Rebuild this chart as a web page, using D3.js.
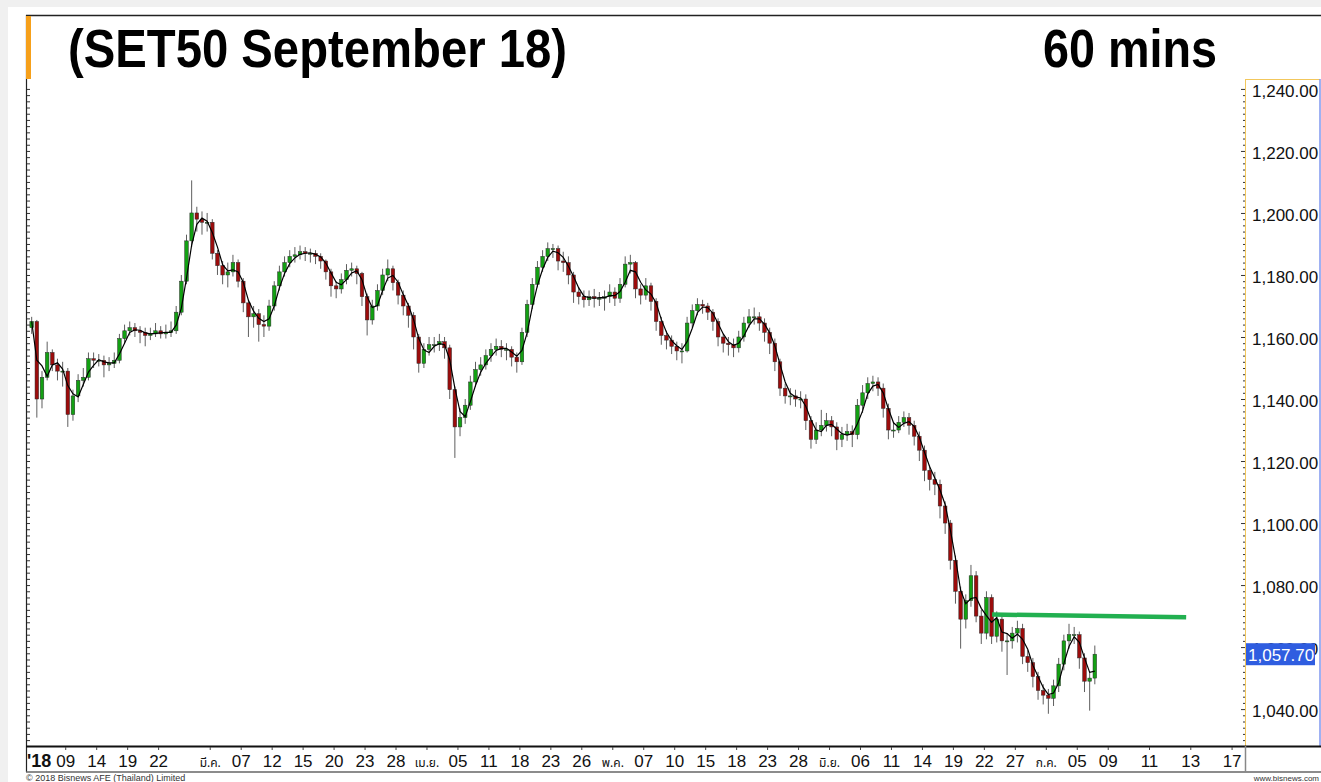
<!DOCTYPE html>
<html>
<head>
<meta charset="utf-8">
<script src="https://cdn.jsdelivr.net/npm/d3@7"></script>
<style>
html, body { margin: 0; padding: 0; background: #f0f0f0; }
svg { display: block; }
</style>
</head>
<body>
<svg id="chart" width="1321" height="782"></svg>
<script>
var closes = [
  1165, 1140, 1147, 1155, 1151, 1149, 1149, 1135, 1141, 1146,
  1147, 1153, 1152.5, 1152.5, 1151, 1151.5, 1152.5, 1159.5, 1162, 1163,
  1162, 1161.5, 1160.5, 1161, 1162, 1161, 1161.5, 1162, 1168, 1178,
  1191, 1200, 1198, 1197, 1197, 1187, 1183, 1180, 1181, 1184,
  1178, 1171, 1166.5, 1167.5, 1164, 1163.5, 1170, 1176.5, 1181, 1184,
  1186, 1186.5, 1187.5, 1187, 1187, 1186, 1184.5, 1181, 1176.5, 1175.5,
  1178.5, 1181.5, 1182, 1180.5, 1173, 1165.5, 1170, 1175, 1180, 1182,
  1177.5, 1173.5, 1170, 1167, 1160, 1151.5, 1156, 1157.5, 1157.5, 1158.5,
  1156.5, 1143, 1131, 1134, 1138, 1145.5, 1149.5, 1151, 1154, 1156,
  1157, 1156, 1156, 1153.5, 1152, 1161.5, 1170.5, 1177, 1182.5, 1186,
  1188.5, 1188.5, 1184.5, 1184, 1180, 1174.5, 1173, 1172, 1173, 1172.5,
  1172.5, 1173, 1174.5, 1172.5, 1177, 1183.5, 1184, 1175.5, 1173.5, 1176.5,
  1171.5, 1165, 1160.5, 1159, 1157, 1155.5, 1155.5, 1164.5, 1168.5, 1170.5,
  1170, 1168, 1165, 1160, 1158, 1157.5, 1156.5, 1160, 1164.5, 1166.5,
  1166.5, 1164.5, 1161.5, 1158, 1152, 1143.5, 1141, 1141, 1140, 1140,
  1133, 1127, 1130, 1131.5, 1133, 1131, 1127, 1128.5, 1129.5, 1128.5,
  1138, 1142, 1145, 1145.5, 1143.5, 1137, 1130, 1130, 1132.5, 1134,
  1131.5, 1128, 1123.5, 1117, 1114, 1112.5, 1105.5, 1100, 1088, 1078,
  1069, 1075, 1083, 1070, 1064.5, 1076, 1063.5, 1069, 1062, 1062,
  1064.5, 1066, 1057, 1055, 1050.5, 1046, 1044.5, 1043.5, 1047.5, 1054.5,
  1062, 1064, 1064, 1056.5, 1049, 1050, 1057.7
];
var highs = [
  1166.5, 1165.5, 1149, 1158.5, 1156, 1153, 1152, 1150, 1143, 1148,
  1150, 1155, 1155, 1154.5, 1154, 1153.5, 1155, 1161, 1164, 1165,
  1164.5, 1163.5, 1163, 1163, 1164.5, 1163.5, 1164, 1165, 1170, 1180,
  1193, 1210.5, 1202, 1200.5, 1200, 1198, 1188, 1184.5, 1184, 1186.5,
  1185, 1179, 1172, 1170, 1169, 1167, 1172, 1178, 1183, 1186,
  1188, 1189, 1189.5, 1189, 1188.5, 1188, 1187, 1185, 1182, 1178,
  1180.5, 1183.5, 1184, 1183, 1181, 1174, 1172, 1177, 1182, 1185,
  1183, 1178.5, 1175, 1171, 1168, 1161, 1158, 1160, 1160, 1161,
  1160, 1157.5, 1144, 1137, 1140, 1147.5, 1152, 1153.5, 1156, 1158,
  1159.5, 1159, 1158, 1157, 1155, 1163, 1172, 1179, 1184.5, 1188,
  1190.5, 1190, 1189.5, 1187.5, 1186, 1181, 1176, 1175, 1175, 1175.5,
  1174.5, 1175, 1177, 1176, 1179, 1186, 1186.5, 1184.5, 1177, 1179,
  1177.5, 1172.5, 1166.5, 1162, 1160.5, 1158.5, 1158, 1166.5, 1170.5, 1172.5,
  1172, 1171, 1169, 1166, 1161, 1160, 1159.5, 1162, 1166.5, 1169,
  1169.5, 1168, 1166, 1163, 1159.5, 1153, 1145, 1143.5, 1143, 1142.5,
  1141.5, 1134.5, 1132.5, 1136.5, 1135.5, 1134.5, 1132.5, 1131, 1132, 1131.5,
  1140, 1144.5, 1147, 1147.5, 1147, 1145, 1138.5, 1132.5, 1134.5, 1136,
  1135.5, 1133, 1129.5, 1125, 1118.5, 1116.5, 1114, 1107, 1101, 1089.5,
  1079.5, 1077, 1086.5, 1084.5, 1072, 1078, 1077, 1071.5, 1070.5, 1064.5,
  1066.5, 1068.5, 1067.5, 1059, 1056.5, 1052, 1048, 1046.5, 1049.5, 1056.5,
  1064, 1067.5, 1066.5, 1065, 1058, 1052, 1060.5
];
var lows = [
  1161, 1134, 1137, 1146, 1149, 1146, 1144, 1131, 1133, 1139,
  1144, 1146, 1150, 1150.5, 1147, 1149, 1150, 1151.5, 1158, 1160.5,
  1160, 1158, 1157, 1159, 1160, 1159.5, 1159.5, 1160, 1161, 1167,
  1177, 1189, 1194, 1193, 1194, 1185, 1180, 1177, 1176, 1179.5,
  1176, 1168, 1160, 1163, 1158.5, 1160, 1162, 1168.5, 1175, 1179.5,
  1182.5, 1184, 1185, 1184.5, 1184, 1183.5, 1182, 1178.5, 1173, 1172.5,
  1174, 1177, 1179.5, 1177, 1170, 1160.5, 1164, 1168.5, 1173.5, 1178,
  1175, 1170.5, 1167, 1163, 1156, 1148.5, 1150, 1154, 1155, 1155.5,
  1153, 1140, 1121, 1128, 1132, 1136.5, 1144, 1147.5, 1149.5, 1152,
  1154, 1153.5, 1152.5, 1150.5, 1148.5, 1151, 1160, 1169, 1176, 1181,
  1184.5, 1185.5, 1181.5, 1181, 1177, 1171, 1170.5, 1169.5, 1170, 1169.5,
  1170, 1168.5, 1171, 1170, 1171, 1176, 1180.5, 1172.5, 1170.5, 1172,
  1168.5, 1162, 1157.5, 1156, 1154.5, 1152.5, 1151.5, 1155, 1163, 1167,
  1167.5, 1165.5, 1162, 1157, 1155, 1154, 1153.5, 1155, 1158.5, 1163,
  1164, 1162, 1158.5, 1154.5, 1149, 1141, 1138.5, 1138, 1137.5, 1137,
  1130, 1124, 1125.5, 1128, 1129.5, 1128, 1123.5, 1124.5, 1126.5, 1124.5,
  1127, 1135.5, 1140, 1142.5, 1141, 1134, 1127, 1127.5, 1129, 1131,
  1128.5, 1125, 1120, 1113.5, 1110.5, 1109, 1101.5, 1096.5, 1085, 1074,
  1059.5, 1066, 1073, 1068, 1061, 1062.5, 1061, 1061.5, 1058.5, 1051,
  1059.5, 1061.5, 1054.5, 1052, 1047, 1043, 1041.5, 1038.5, 1041, 1045.5,
  1052.5, 1059.5, 1061, 1053, 1045.5, 1039.5, 1048
];
var firstOpen = 1163;
var firstSlot = 0.75;   // Feb 5 afternoon, counted in trading days
var slotStep = 0.5;     // two candles per trading day

// x axis: trading-day index (0 = Feb 5 2018); days after Jul 6 are future slots
var tickDays   = [4, 7, 10, 13, 18, 21, 24, 27, 30, 33, 36, 39, 42, 45, 48, 51, 54, 57, 60, 63, 66, 69, 72, 75, 78, 81, 84, 87, 90, 93, 96, 99, 102, 105, 109, 113, 117];
var tickLabels = ["09", "14", "19", "22", "มี.ค.", "07", "12", "15", "20", "23", "28", "เม.ย.", "05", "11", "18", "23", "26", "พ.ค.", "07", "10", "15", "18", "23", "28", "มิ.ย.", "06", "11", "14", "19", "22", "27", "ก.ค.", "05", "09", "11", "13", "17"];
var yearLabel = "'18";

var priceTicks = [1040, 1060, 1080, 1100, 1120, 1140, 1160, 1180, 1200, 1220, 1240];
var lastPrice = 1057.7;
var lineDays = [93.8, 112.6];
var lineLevels = [1070.5, 1069.6];

var titleText = "(SET50 September 18)";
var periodText = "60 mins";

var W = 1321, H = 782;
var plot = {left: 26, right: 1245, top: 79, bottom: 746};
var font = "'Liberation Sans', Arial, sans-serif";
var thaiFont = "'Noto Sans Thai', 'Tahoma', 'Noto Sans', 'DejaVu Sans', sans-serif";

var svg = d3.select('#chart');

var x = d3.scaleLinear().domain([0.2, 118.3]).range([plot.left, plot.right]);
var y = d3.scaleLinear().domain([1028.1, 1243.2]).range([plot.bottom, plot.top]);

// background panel
svg.append('rect').attr('x', 8).attr('y', 7).attr('width', W - 8).attr('height', H - 7).attr('fill', '#fff');

// frame
svg.append('line').attr('x1', plot.left).attr('x2', W).attr('y1', 15.5).attr('y2', 15.5)
    .attr('stroke', '#222').attr('stroke-width', 1.5);
svg.append('line').attr('x1', plot.left + 0.5).attr('x2', plot.left + 0.5).attr('y1', 15).attr('y2', 772)
    .attr('stroke', '#222').attr('stroke-width', 1.2);
svg.append('rect').attr('x', plot.left).attr('y', 16).attr('width', 5).attr('height', 63).attr('fill', '#f6a01a');

// titles
svg.append('text').attr('x', 68).attr('y', 67)
    .attr('font-family', font).attr('font-weight', 'bold').attr('font-size', 54)
    .attr('textLength', 499).attr('lengthAdjust', 'spacingAndGlyphs')
    .text(titleText);
svg.append('text').attr('x', 1043).attr('y', 67)
    .attr('font-family', font).attr('font-weight', 'bold').attr('font-size', 54)
    .attr('textLength', 174).attr('lengthAdjust', 'spacingAndGlyphs')
    .text(periodText);

// left border minor ticks
var minorTicks = d3.range(1030, 1242, 2);
svg.append('g').attr('transform', 'translate(' + (plot.left + 1) + ',0)')
    .call(d3.axisRight(y).tickValues(minorTicks).tickSize(3).tickFormat(''))
    .call(function(g) {
        g.select('.domain').remove();
        g.selectAll('.tick line').attr('stroke', '#333');
    });

// candles
var candles = closes.map(function(c, i) {
    return {
        t: firstSlot + i * slotStep,
        o: i === 0 ? firstOpen : closes[i - 1],
        h: highs[i], l: lows[i], c: c
    };
});

svg.append('clipPath').attr('id', 'plotClip').append('rect')
    .attr('x', plot.left + 1).attr('y', plot.top).attr('width', plot.right - plot.left - 1).attr('height', plot.bottom - plot.top);
var gPlot = svg.append('g').attr('clip-path', 'url(#plotClip)');

var bodyW = 3.6;
var gc = gPlot.selectAll('g.candle').data(candles).enter().append('g').attr('class', 'candle');
gc.append('line')
    .attr('x1', function(d) { return x(d.t); })
    .attr('x2', function(d) { return x(d.t); })
    .attr('y1', function(d) { return y(d.h); })
    .attr('y2', function(d) { return y(d.l); })
    .attr('stroke', '#5e5e5e').attr('stroke-width', 1);
gc.append('rect')
    .attr('x', function(d) { return x(d.t) - bodyW / 2; })
    .attr('y', function(d) { return y(Math.max(d.o, d.c)); })
    .attr('width', bodyW)
    .attr('height', function(d) { return Math.max(1, Math.abs(y(d.o) - y(d.c))); })
    .attr('fill', function(d) { return d.c >= d.o ? '#13a013' : '#9c0c0c'; })
    .attr('stroke', '#2a2a2a').attr('stroke-width', 0.5);

// short moving average of closes
var maLen = 3;
var maData = candles.map(function(d, i) {
    var from = Math.max(0, i - maLen + 1);
    return {t: d.t, v: d3.mean(closes.slice(from, i + 1))};
});
gPlot.append('path').datum(maData)
    .attr('d', d3.line().x(function(d) { return x(d.t); }).y(function(d) { return y(d.v); }))
    .attr('fill', 'none').attr('stroke', '#000').attr('stroke-width', 1.2);

// resistance line
gPlot.append('line')
    .attr('x1', x(lineDays[0])).attr('x2', x(lineDays[1]))
    .attr('y1', y(lineLevels[0])).attr('y2', y(lineLevels[1]))
    .attr('stroke', '#22b050').attr('stroke-width', 4.5);

// price axis panel
svg.append('line').attr('x1', plot.right + 0.5).attr('x2', plot.right + 0.5).attr('y1', plot.top).attr('y2', plot.bottom)
    .attr('stroke', '#f2c75c').attr('stroke-width', 1);
svg.append('line').attr('x1', plot.right).attr('x2', 1320).attr('y1', plot.top + 0.5).attr('y2', plot.top + 0.5)
    .attr('stroke', '#f2c75c').attr('stroke-width', 1);
svg.append('line').attr('x1', 1320).attr('x2', 1320).attr('y1', plot.top).attr('y2', plot.bottom)
    .attr('stroke', '#7f97ef').attr('stroke-width', 1.5);

svg.append('g').attr('transform', 'translate(' + plot.right + ',0)')
    .call(d3.axisLeft(y).tickValues(minorTicks).tickSize(2).tickFormat(''))
    .call(function(g) {
        g.select('.domain').remove();
        g.selectAll('.tick line').attr('stroke', '#333')
            .attr('x2', function(d) { return d % 20 === 0 ? -4 : -2; });
    });
svg.append('g').attr('transform', 'translate(' + plot.right + ',0)')
    .call(d3.axisRight(y).tickValues(priceTicks).tickSize(0).tickPadding(7).tickFormat(d3.format(',.2f')))
    .call(function(g) {
        g.select('.domain').remove();
        g.selectAll('.tick text').attr('font-family', font).attr('font-size', 17).attr('fill', '#111').attr('dy', '0.42em');
    });

// last price tag (sits over the 1,060.00 label, as in the source)
var gTag = svg.append('g').attr('transform', 'translate(' + (plot.right + 1) + ',' + y(lastPrice) + ')');
gTag.append('rect').attr('x', 0).attr('y', -11).attr('width', 69).attr('height', 22).attr('fill', '#2f5de0');
gTag.append('text').attr('x', 2).attr('y', 6.5)
    .attr('font-family', font).attr('font-size', 17).attr('fill', '#fff')
    .text(d3.format(',.2f')(lastPrice));

// time axis
svg.append('line').attr('x1', plot.left).attr('x2', W).attr('y1', plot.bottom + 0.5).attr('y2', plot.bottom + 0.5)
    .attr('stroke', '#111').attr('stroke-width', 2);
svg.append('line').attr('x1', plot.left).attr('x2', W).attr('y1', 772).attr('y2', 772)
    .attr('stroke', '#666').attr('stroke-width', 1.5);
svg.append('line').attr('x1', plot.right + 0.5).attr('x2', plot.right + 0.5).attr('y1', plot.bottom).attr('y2', 772)
    .attr('stroke', '#888').attr('stroke-width', 1.5);

svg.append('g').attr('transform', 'translate(0,' + (plot.bottom + 1) + ')')
    .call(d3.axisBottom(x).tickValues(tickDays).tickSize(3).tickPadding(4)
        .tickFormat(function(d, i) { return tickLabels[i]; }))
    .call(function(g) {
        g.select('.domain').remove();
        g.selectAll('.tick line').attr('stroke', '#444');
        g.selectAll('.tick text')
            .attr('fill', '#111')
            .attr('y', 20).attr('dy', 0)
            .each(function(d, i) {
                var isMonth = /[\u0E00-\u0E7F]/.test(tickLabels[i]);
                d3.select(this)
                    .attr('font-family', isMonth ? thaiFont : font)
                    .attr('font-size', isMonth ? 12 : 17);
            });
    });
svg.append('text').attr('x', plot.left + 1).attr('y', plot.bottom + 21)
    .attr('font-family', font).attr('font-weight', 'bold').attr('font-size', 18).attr('fill', '#111')
    .text(yearLabel);

// footer
svg.append('text').attr('x', plot.left).attr('y', 781)
    .attr('font-family', font).attr('font-size', 9).attr('fill', '#333')
    .text('© 2018 Bisnews AFE (Thailand) Limited');
svg.append('text').attr('x', 1319).attr('y', 781).attr('text-anchor', 'end')
    .attr('font-family', font).attr('font-size', 8).attr('fill', '#333')
    .text('www.bisnews.com');
</script>
</body>
</html>
